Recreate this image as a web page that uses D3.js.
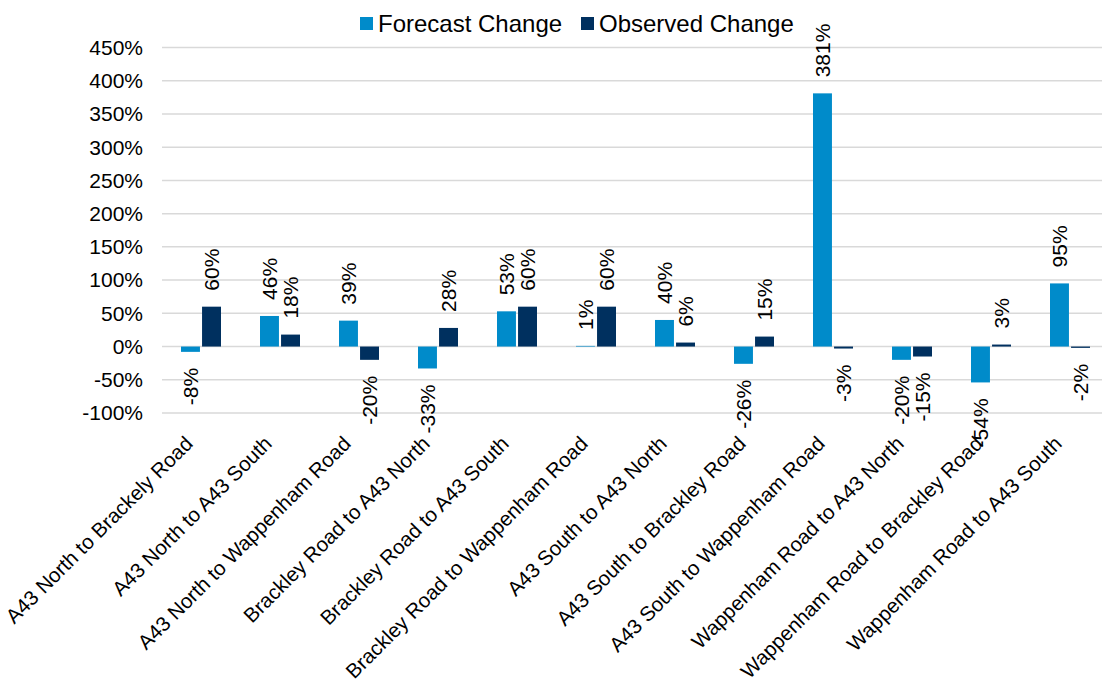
<!DOCTYPE html>
<html lang="en">
<head>
  <meta charset="utf-8">
  <title>Forecast vs Observed Change</title>
  <script src="https://d3js.org/d3.v7.min.js"></script>
  <style>
    body { margin: 0; background: #fff; }
    text { font-family: "Liberation Sans", Arial, sans-serif; fill: #000; }
  </style>
</head>
<body>
  <script type="text/javascript">
  // chart data
  var categories = [
    "A43 North to Brackely Road",
    "A43 North to A43 South",
    "A43 North to Wappenham Road",
    "Brackley Road to A43 North",
    "Brackley Road to A43 South",
    "Brackley Road to Wappenham Road",
    "A43 South to A43 North",
    "A43 South to Brackley Road",
    "A43 South to Wappenham Road",
    "Wappenham Road to A43 North",
    "Wappenham Road to Brackley Road",
    "Wappenham Road to A43 South"
  ];
  var forecast = [-8, 46, 39, -33, 53, 1, 40, -26, 381, -20, -54, 95];
  var observed = [60, 18, -20, 28, 60, 60, 6, 15, -3, -15, 3, -2];
  var seriesNames = ["Forecast Change", "Observed Change"];
  var yTicks = [-100, -50, 0, 50, 100, 150, 200, 250, 300, 350, 400, 450];

  var w = 1102;
  var h = 684;
  var colors = ["#008bca", "#00305f"];

  var svg = d3.select("body")
    .append("svg")
    .attr("width", w)
    .attr("height", h);

  var x = d3.scaleBand()
    .domain(categories)
    .range([161.5, 161.5 + 12 * 79]);

  var xSub = d3.scaleBand()
    .domain(seriesNames)
    .range([-20, 20])
    .paddingInner(0.1);

  var y = d3.scaleLinear()
    .domain([-100, 450])
    .range([413, 47.5]);

  // gridlines
  svg.selectAll(".grid")
    .data(yTicks)
    .enter()
    .append("line")
    .attr("class", "grid")
    .attr("x1", 162)
    .attr("x2", w)
    .attr("y1", function(d){ return y(d); })
    .attr("y2", function(d){ return y(d); })
    .attr("stroke", "#d9d9d9")
    .attr("stroke-width", 1.5);

  // y tick labels
  svg.selectAll(".ytick")
    .data(yTicks)
    .enter()
    .append("text")
    .attr("class", "ytick")
    .attr("x", 143)
    .attr("y", function(d){ return y(d); })
    .attr("dy", "0.35em")
    .attr("text-anchor", "end")
    .attr("font-size", "21px")
    .text(function(d){ return d + "%"; });

  var rows = categories.map(function(c, i){
    return [
      {cat: c, s: seriesNames[0], v: forecast[i], k: 0},
      {cat: c, s: seriesNames[1], v: observed[i], k: 1}
    ];
  });
  var flat = [].concat.apply([], rows);

  function barX(d){ return x(d.cat) + x.bandwidth() / 2 + xSub(d.s); }

  svg.selectAll(".bar")
    .data(flat)
    .enter()
    .append("rect")
    .attr("class", "bar")
    .attr("x", barX)
    .attr("width", xSub.bandwidth())
    .attr("y", function(d){ return d.v >= 0 ? y(d.v) : y(0); })
    .attr("height", function(d){ return Math.abs(y(d.v) - y(0)); })
    .attr("fill", function(d){ return colors[d.k]; });

  // value labels, rotated
  svg.selectAll(".vlabel")
    .data(flat)
    .enter()
    .append("text")
    .attr("class", "vlabel")
    .attr("font-size", "21px")
    .attr("text-anchor", function(d){ return d.v >= 0 ? "start" : "end"; })
    .attr("dy", "0.35em")
    .attr("transform", function(d){
      var cx = barX(d) + xSub.bandwidth() / 2;
      var cy = d.v >= 0 ? y(d.v) - 16 : y(d.v) + 16;
      return "translate(" + cx + "," + cy + ") rotate(-90)";
    })
    .text(function(d){ return d.v + "%"; });

  // category labels
  svg.selectAll(".xlabel")
    .data(categories)
    .enter()
    .append("text")
    .attr("class", "xlabel")
    .attr("font-size", "20.5px")
    .attr("text-anchor", "end")
    .attr("transform", function(d){
      var cx = x(d) + x.bandwidth() / 2 - 7;
      return "translate(" + cx + ",445) rotate(-45)";
    })
    .text(function(d){ return d; });

  // legend
  var legendX = [360, 581];
  var legend = svg.selectAll(".legend")
    .data(seriesNames)
    .enter()
    .append("g")
    .attr("class", "legend")
    .attr("transform", function(d, i){ return "translate(" + legendX[i] + ",0)"; });
  legend.append("rect")
    .attr("x", 0)
    .attr("y", 17)
    .attr("width", 13)
    .attr("height", 13)
    .attr("fill", function(d, i){ return colors[i]; });
  legend.append("text")
    .attr("x", 18)
    .attr("y", 23.5)
    .attr("dy", "0.35em")
    .attr("font-size", "24px")
    .text(function(d){ return d; });
  </script>
</body>
</html>
